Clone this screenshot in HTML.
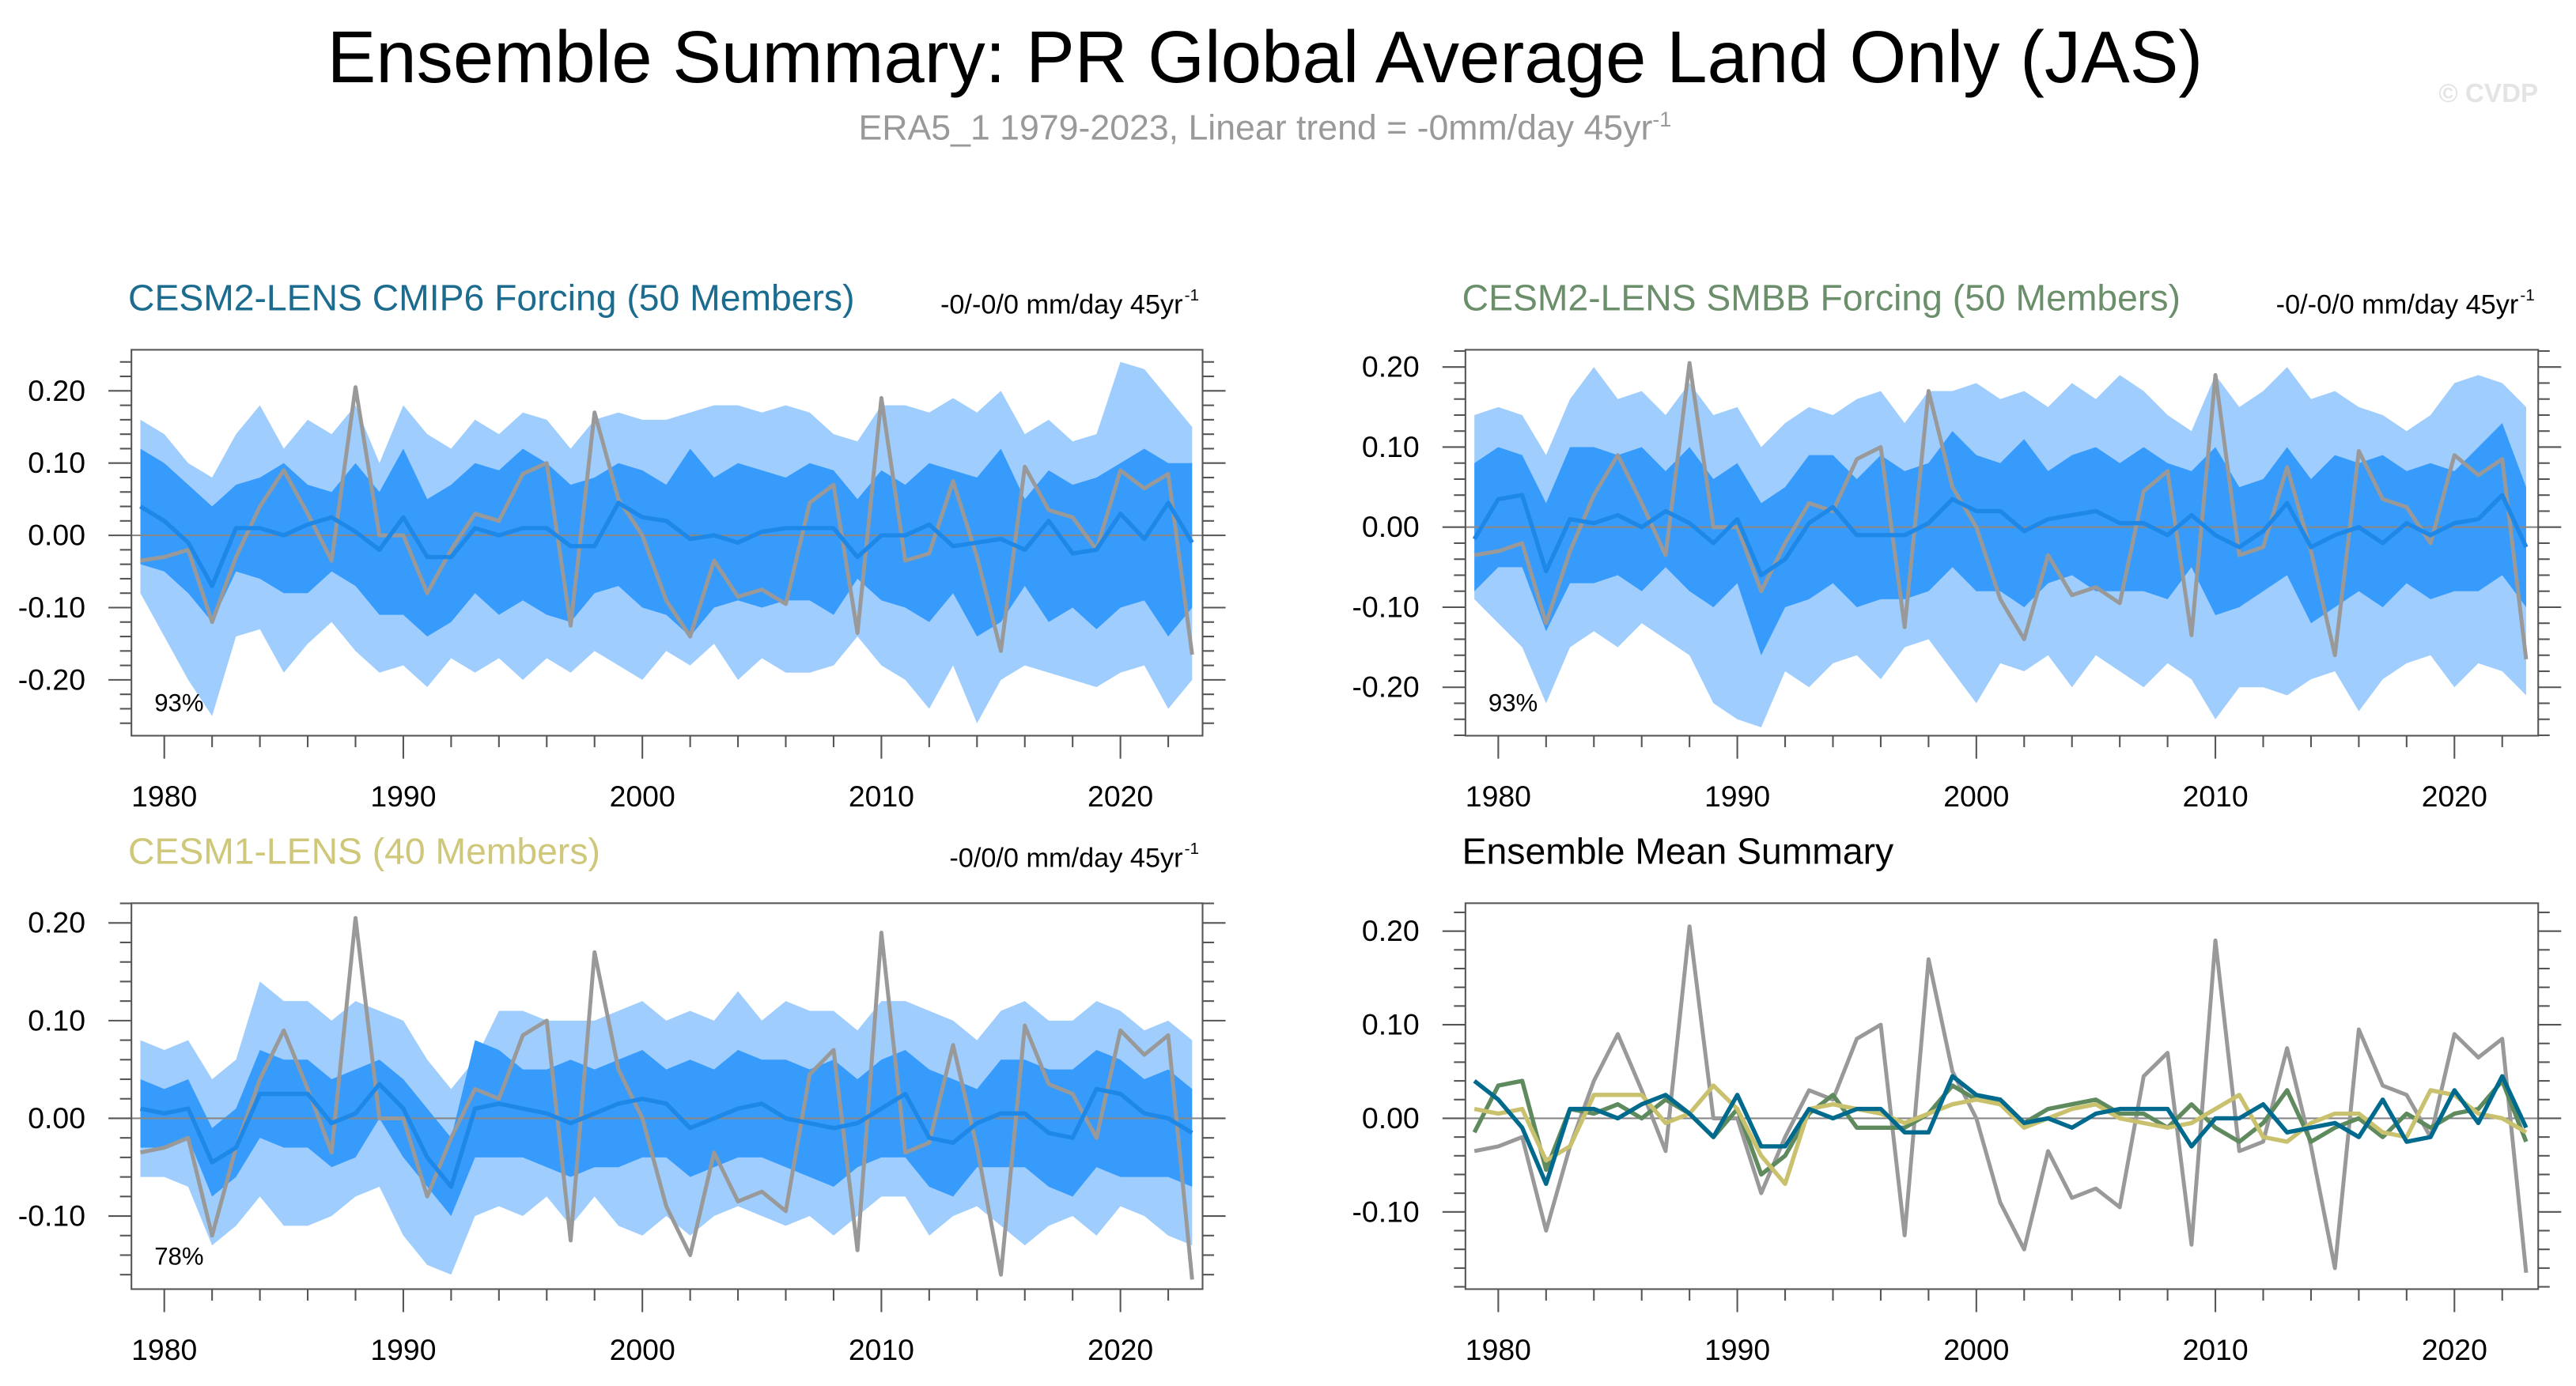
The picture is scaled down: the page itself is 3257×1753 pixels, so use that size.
<!DOCTYPE html>
<html><head><meta charset="utf-8"><style>
html,body{margin:0;padding:0;background:#fff;}
svg{display:block;font-family:"Liberation Sans",Arial,sans-serif;}
</style></head><body>
<svg id="chart" width="3257" height="1753" viewBox="0 0 1568 844" preserveAspectRatio="none" xmlns="http://www.w3.org/2000/svg">
<text x="770" y="50" text-anchor="middle" font-size="44.5" fill="#000">Ensemble Summary: PR Global Average Land Only (JAS)</text>
<text x="770" y="85" text-anchor="middle" font-size="21.5" fill="#999">ERA5_1 1979-2023, Linear trend = -0mm/day 45yr<tspan font-size="13" dy="-8">-1</tspan></text>
<text x="1545" y="62" text-anchor="end" font-size="16" font-weight="bold" fill="#e4e4e4">© CVDP</text>
<g id="plots"></g>
</svg>
<script>
const years = [];
for (let y = 1979; y <= 2023; y++) years.push(y);
const obs = [-0.035,-0.03,-0.02,-0.12,-0.03,0.04,0.09,0.03,-0.035,0.205,0.0,0.0,-0.08,-0.02,0.03,0.02,0.085,0.10,-0.125,0.17,0.05,0.0,-0.09,-0.14,-0.035,-0.085,-0.075,-0.095,0.045,0.07,-0.135,0.19,-0.035,-0.025,0.075,-0.03,-0.16,0.095,0.035,0.025,-0.02,0.09,0.065,0.085,-0.165];

const cmip6Mean = [0.04,0.02,-0.01,-0.07,0.01,0.01,0.0,0.015,0.025,0.005,-0.02,0.025,-0.03,-0.03,0.01,0.0,0.01,0.01,-0.015,-0.015,0.045,0.025,0.02,-0.005,0.0,-0.01,0.005,0.01,0.01,0.01,-0.03,0.0,0.0,0.015,-0.015,-0.01,-0.005,-0.02,0.02,-0.025,-0.02,0.03,-0.005,0.045,-0.01];
const cmip6OuterHi = [0.16,0.14,0.10,0.08,0.14,0.18,0.12,0.16,0.14,0.18,0.10,0.18,0.14,0.12,0.16,0.14,0.17,0.16,0.12,0.16,0.17,0.16,0.16,0.17,0.18,0.18,0.17,0.18,0.17,0.14,0.13,0.18,0.18,0.17,0.19,0.17,0.20,0.14,0.16,0.13,0.14,0.24,0.23,0.19,0.15];
const cmip6OuterLo = [-0.08,-0.14,-0.20,-0.25,-0.14,-0.13,-0.19,-0.15,-0.12,-0.16,-0.19,-0.18,-0.21,-0.17,-0.19,-0.17,-0.20,-0.17,-0.19,-0.16,-0.18,-0.20,-0.16,-0.18,-0.15,-0.20,-0.17,-0.19,-0.19,-0.18,-0.14,-0.18,-0.20,-0.24,-0.18,-0.26,-0.20,-0.18,-0.19,-0.20,-0.21,-0.19,-0.18,-0.24,-0.20];
const cmip6InnerHi = [0.12,0.10,0.07,0.04,0.07,0.08,0.10,0.07,0.06,0.10,0.06,0.12,0.05,0.07,0.10,0.09,0.12,0.10,0.07,0.08,0.10,0.09,0.07,0.12,0.08,0.10,0.09,0.08,0.10,0.09,0.05,0.09,0.07,0.10,0.09,0.08,0.12,0.05,0.09,0.07,0.08,0.10,0.12,0.10,0.10];
const cmip6InnerLo = [-0.04,-0.05,-0.08,-0.12,-0.05,-0.06,-0.08,-0.08,-0.05,-0.07,-0.11,-0.11,-0.14,-0.12,-0.08,-0.11,-0.09,-0.11,-0.12,-0.08,-0.07,-0.10,-0.11,-0.14,-0.10,-0.09,-0.10,-0.09,-0.09,-0.11,-0.06,-0.09,-0.10,-0.12,-0.08,-0.14,-0.12,-0.07,-0.12,-0.10,-0.13,-0.10,-0.09,-0.14,-0.10];

const smbbMean = [-0.015,0.035,0.04,-0.055,0.01,0.005,0.015,0.0,0.02,0.005,-0.02,0.01,-0.06,-0.04,0.005,0.025,-0.01,-0.01,-0.01,0.005,0.035,0.02,0.02,-0.005,0.01,0.015,0.02,0.005,0.005,-0.01,0.015,-0.01,-0.025,-0.005,0.03,-0.025,-0.01,0.0,-0.02,0.005,-0.01,0.005,0.01,0.04,-0.025];
const smbbOuterHi = [0.14,0.15,0.14,0.09,0.16,0.20,0.16,0.17,0.14,0.18,0.14,0.15,0.10,0.13,0.15,0.14,0.16,0.17,0.13,0.17,0.17,0.18,0.16,0.17,0.15,0.18,0.16,0.19,0.17,0.14,0.12,0.19,0.15,0.17,0.20,0.16,0.17,0.15,0.14,0.12,0.14,0.18,0.19,0.18,0.15];
const smbbOuterLo = [-0.09,-0.12,-0.15,-0.22,-0.15,-0.13,-0.15,-0.12,-0.14,-0.16,-0.22,-0.24,-0.25,-0.18,-0.20,-0.17,-0.16,-0.19,-0.15,-0.14,-0.18,-0.22,-0.17,-0.18,-0.16,-0.20,-0.16,-0.18,-0.20,-0.17,-0.19,-0.24,-0.20,-0.20,-0.21,-0.19,-0.18,-0.23,-0.19,-0.17,-0.16,-0.20,-0.17,-0.18,-0.21];
const smbbInnerHi = [0.08,0.10,0.09,0.03,0.10,0.10,0.09,0.10,0.07,0.10,0.06,0.08,0.03,0.05,0.09,0.09,0.06,0.09,0.07,0.08,0.12,0.09,0.08,0.11,0.07,0.09,0.10,0.08,0.10,0.08,0.07,0.10,0.05,0.06,0.10,0.06,0.09,0.08,0.09,0.07,0.08,0.07,0.10,0.13,0.05];
const smbbInnerLo = [-0.08,-0.05,-0.05,-0.13,-0.07,-0.07,-0.06,-0.08,-0.05,-0.08,-0.10,-0.07,-0.16,-0.10,-0.09,-0.07,-0.10,-0.09,-0.09,-0.08,-0.05,-0.08,-0.08,-0.10,-0.07,-0.06,-0.08,-0.08,-0.08,-0.09,-0.05,-0.11,-0.10,-0.08,-0.06,-0.12,-0.10,-0.08,-0.10,-0.07,-0.09,-0.08,-0.08,-0.06,-0.10];

const cesm1Mean = [0.01,0.005,0.01,-0.045,-0.03,0.025,0.025,0.025,-0.005,0.005,0.035,0.01,-0.04,-0.07,0.01,0.015,0.01,0.005,-0.005,0.005,0.015,0.02,0.015,-0.01,0.0,0.01,0.015,0.0,-0.005,-0.01,-0.005,0.01,0.025,-0.02,-0.025,-0.005,0.005,0.005,-0.015,-0.02,0.03,0.025,0.005,0.0,-0.015];
const cesm1OuterHi = [0.08,0.07,0.08,0.04,0.06,0.14,0.12,0.12,0.10,0.12,0.11,0.10,0.06,0.03,0.06,0.11,0.11,0.10,0.10,0.10,0.11,0.12,0.10,0.11,0.10,0.13,0.10,0.12,0.11,0.11,0.09,0.12,0.12,0.11,0.10,0.08,0.11,0.12,0.10,0.10,0.12,0.11,0.09,0.10,0.08];
const cesm1OuterLo = [-0.06,-0.06,-0.07,-0.13,-0.11,-0.08,-0.11,-0.11,-0.10,-0.08,-0.07,-0.12,-0.15,-0.16,-0.10,-0.09,-0.10,-0.08,-0.11,-0.08,-0.11,-0.12,-0.10,-0.12,-0.10,-0.09,-0.10,-0.11,-0.10,-0.12,-0.10,-0.08,-0.08,-0.12,-0.10,-0.09,-0.11,-0.13,-0.11,-0.10,-0.12,-0.09,-0.10,-0.12,-0.13];
const cesm1InnerHi = [0.04,0.03,0.04,-0.01,0.01,0.07,0.06,0.06,0.04,0.05,0.06,0.04,0.01,-0.02,0.08,0.07,0.05,0.05,0.06,0.05,0.06,0.07,0.05,0.06,0.05,0.07,0.06,0.06,0.05,0.06,0.04,0.06,0.07,0.05,0.04,0.03,0.06,0.06,0.05,0.05,0.07,0.06,0.04,0.05,0.03];
const cesm1InnerLo = [-0.03,-0.03,-0.02,-0.08,-0.06,-0.02,-0.03,-0.03,-0.05,-0.04,0.0,-0.04,-0.07,-0.10,-0.04,-0.04,-0.04,-0.05,-0.06,-0.05,-0.05,-0.04,-0.04,-0.06,-0.05,-0.04,-0.04,-0.05,-0.06,-0.07,-0.05,-0.04,-0.04,-0.07,-0.08,-0.05,-0.05,-0.05,-0.07,-0.08,-0.05,-0.06,-0.06,-0.06,-0.07];

const xTickLabels = [1980,1990,2000,2010,2020];
const yTicksA = [0.20,0.10,0.00,-0.10,-0.20];
const yTicksB = [0.20,0.10,0.00,-0.10];

const NS = "http://www.w3.org/2000/svg";
const root = document.getElementById('plots');
function el(tag, attrs, parent) {
  const e = document.createElementNS(NS, tag);
  for (const k in attrs) e.setAttribute(k, attrs[k]);
  (parent || root).appendChild(e);
  return e;
}
function makePanel(p) {
  const g = el('g', {});
  
  
  const X = yr => p.x1980 + (yr - 1980) * (p.x2020 - p.x1980) / 40;
  const Y = v => p.y0 - v * p.per01 * 10;
  const clip = 'clip-' + p.name;
  const cp = el('clipPath', {id: clip}, g);
  el('rect', {x: p.bx0, y: p.by0, width: p.bx1 - p.bx0, height: p.by1 - p.by0}, cp);
  const inner = el('g', {'clip-path': 'url(#' + clip + ')'}, g);
  function band(hi, lo, fill, nm) {
    let d = '';
    years.forEach((yr, i) => { d += (i ? 'L' : 'M') + X(yr).toFixed(2) + ',' + Y(hi[i]).toFixed(2); });
    for (let i = years.length - 1; i >= 0; i--) d += 'L' + X(years[i]).toFixed(2) + ',' + Y(lo[i]).toFixed(2);
    const b = el('path', {d: d + 'Z', fill: fill}, inner);
    
    
  }
  function line(vals, color, w, nm) {
    const pts = years.map((yr, i) => X(yr).toFixed(2) + ',' + Y(vals[i]).toFixed(2)).join(' ');
    const l = el('polyline', {points: pts, fill: 'none', stroke: color, 'stroke-width': w, 'stroke-linejoin': 'round'}, inner);
    
    
  }
  if (p.outerHi) band(p.outerHi, p.outerLo, '#9fcdfd', 'outer-range-band');
  if (p.innerHi) band(p.innerHi, p.innerLo, '#379bfb', 'inner-range-band');
  el('line', {x1: p.bx0, x2: p.bx1, y1: Y(0), y2: Y(0), stroke: '#888', 'stroke-width': 1}, inner);
  line(obs, '#999', 2.4, 'observed-line');
  (p.lines || []).forEach(s => line(s.vals, s.color, s.w, s.nm));
  const box = el('rect', {x: p.bx0, y: p.by0, width: p.bx1 - p.bx0, height: p.by1 - p.by0, fill: 'none', stroke: '#555', 'stroke-width': 1}, g);
  
  
  const yMin = (p.y0 - p.by1) / (p.per01 * 10), yMax = (p.y0 - p.by0) / (p.per01 * 10);
  for (let k = Math.ceil(yMin * 50); k <= Math.floor(yMax * 50); k++) {
    const v = k / 50, yy = Y(v), major = (k % 5 === 0);
    const len = major ? 14 : 7;
    el('line', {x1: p.bx0 - len, x2: p.bx0, y1: yy, y2: yy, stroke: '#555', 'stroke-width': 1}, g);
    el('line', {x1: p.bx1, x2: p.bx1 + len, y1: yy, y2: yy, stroke: '#555', 'stroke-width': 1}, g);
  }
  p.yTicks.forEach(v => {
    const t = el('text', {x: p.bx0 - 28, y: Y(v) + 6, 'text-anchor': 'end', 'font-size': 18}, g);
    
    
    t.textContent = v.toFixed(2);
  });
  years.forEach(yr => {
    if (yr % 2 !== 0) return;
    const major = yr % 10 === 0;
    el('line', {x1: X(yr), x2: X(yr), y1: p.by1, y2: p.by1 + (major ? 14 : 7), stroke: '#555', 'stroke-width': 1}, g);
  });
  xTickLabels.forEach(yr => {
    const t = el('text', {x: X(yr), y: p.by1 + 43, 'text-anchor': 'middle', 'font-size': 18}, g);
    
    
    t.textContent = yr;
  });
  const tt = el('text', {x: p.bx0 - 2, y: p.by0 - 24, 'font-size': 22.3, fill: p.titleColor}, g);
  
  
  tt.textContent = p.title;
  if (p.trend) {
    const tr = el('text', {x: p.bx1 - 12, y: p.by0 - 22, 'text-anchor': 'end', 'font-size': 16.5}, g);
    
    
    tr.textContent = p.trend;
    const sup = el('text', {x: p.bx1 - 11, y: p.by0 - 30, 'font-size': 10}, g);
    
    
    sup.textContent = '-1';
  }
  if (p.pct) {
    const pc = el('text', {x: p.bx0 + 14, y: p.by1 - 15, 'font-size': 15}, g);
    
    
    pc.textContent = p.pct;
  }
}
makePanel({name:'cmip6-panel', bx0:80, bx1:732, by0:213, by1:448, x1980:100, x2020:682, y0:326, per01:44,
  outerHi:cmip6OuterHi, outerLo:cmip6OuterLo, innerHi:cmip6InnerHi, innerLo:cmip6InnerLo,
  lines:[{vals:cmip6Mean, color:'#1e88e8', w:2.6, nm:'ensemble-mean-line'}], yTicks:yTicksA,
  title:'CESM2-LENS CMIP6 Forcing (50 Members)', titleColor:'#1c6c90', trend:'-0/-0/0 mm/day 45yr', pct:'93%'});
makePanel({name:'smbb-panel', bx0:892, bx1:1545, by0:213, by1:448, x1980:912, x2020:1494, y0:321, per01:48.75,
  outerHi:smbbOuterHi, outerLo:smbbOuterLo, innerHi:smbbInnerHi, innerLo:smbbInnerLo,
  lines:[{vals:smbbMean, color:'#1e88e8', w:2.6, nm:'ensemble-mean-line'}], yTicks:yTicksA,
  title:'CESM2-LENS SMBB Forcing (50 Members)', titleColor:'#6a8f6a', trend:'-0/-0/0 mm/day 45yr', pct:'93%'});
makePanel({name:'cesm1-panel', bx0:80, bx1:732, by0:550, by1:785, x1980:100, x2020:682, y0:681, per01:59.5,
  outerHi:cesm1OuterHi, outerLo:cesm1OuterLo, innerHi:cesm1InnerHi, innerLo:cesm1InnerLo,
  lines:[{vals:cesm1Mean, color:'#1e88e8', w:2.6, nm:'ensemble-mean-line'}], yTicks:yTicksB,
  title:'CESM1-LENS (40 Members)', titleColor:'#cfc77a', trend:'-0/0/0 mm/day 45yr', pct:'78%'});
makePanel({name:'ensemble-mean-summary-panel', bx0:892, bx1:1545, by0:550, by1:785, x1980:912, x2020:1494, y0:681, per01:57,
  lines:[{vals:smbbMean, color:'#5e8a5e', w:2.6, nm:'smbb-mean-line'},
         {vals:cesm1Mean, color:'#c9c16e', w:2.6, nm:'cesm1-mean-line'},
         {vals:cmip6Mean, color:'#006a8e', w:2.6, nm:'cmip6-mean-line'}], yTicks:yTicksB,
  title:'Ensemble Mean Summary', titleColor:'#000'});
</script>
</body></html>
